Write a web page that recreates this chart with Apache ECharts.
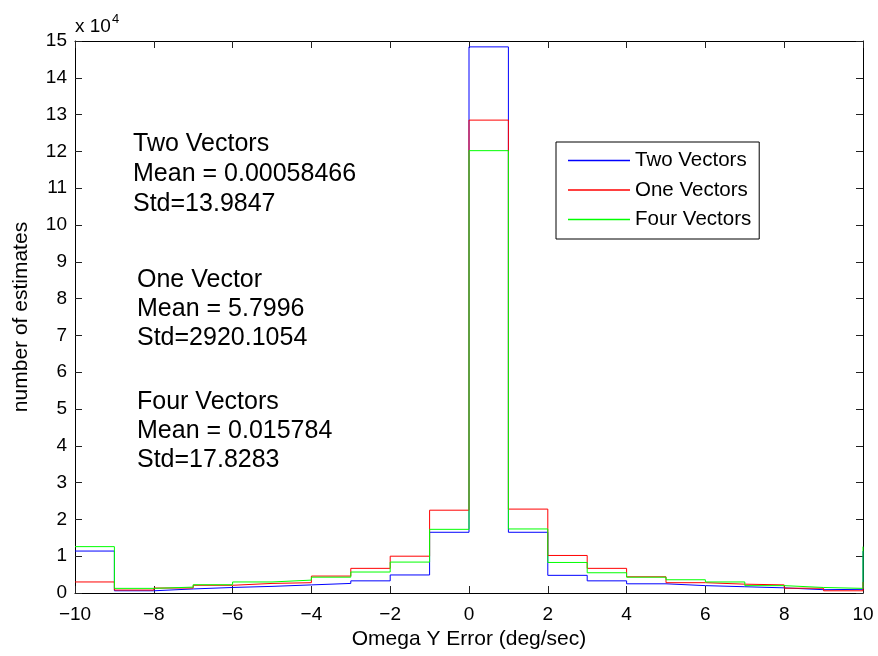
<!DOCTYPE html>
<html>
<head>
<meta charset="utf-8">
<script src="https://cdn.jsdelivr.net/npm/echarts@6/dist/echarts.min.js"></script>
<style>
  html, body { margin: 0; padding: 0; background: #fff; }
  #chart { width: 878px; height: 656px; }
</style>
</head>
<body>
<div id="chart"></div>
<script>
// bin left edges (deg/sec); the last point closes the stairs at x = 10
var edges = [-10, -9, -8, -7, -6, -5, -4, -3, -2, -1, 0, 1, 2, 3, 4, 5, 6, 7, 8, 9, 10]
// counts per bin
var twoVectors = [11400, 600, 1100, 1500, 1800, 2200, 2600, 3300, 4900, 16500, 148400, 16500, 4800, 3300, 2500, 2000, 1700, 1400, 900, 1000, 11400]
var oneVectors = [3000, 800, 1350, 2100, 2600, 2800, 4600, 6700, 10000, 22500, 128500, 22800, 10200, 6700, 4400, 2800, 2400, 2200, 1300, 600, 3000]
var fourVectors = [12600, 1260, 1600, 2250, 3000, 3500, 4300, 5700, 8400, 17300, 120200, 17400, 8300, 5500, 4300, 3600, 3000, 2000, 1500, 1260, 12600]
var seriesNames = ['Two Vectors', 'One Vectors', 'Four Vectors']
var seriesColors = ['#0000ff', '#ff0000', '#00ff00']
var xTicks = { min: -10, max: 10, step: 2 }
var yTicks = { min: 0, max: 150000, step: 10000 }
var notes = [
    'Two Vectors\nMean = 0.00058466\nStd=13.9847',
    'One Vector\nMean = 5.7996\nStd=2920.1054',
    'Four Vectors\nMean = 0.015784\nStd=17.8283'
]

var font = "'Liberation Sans', Arial, Helvetica, sans-serif"

function pairs(vals) {
    return edges.map(function (x, i) { return [x, vals[i]] })
}

function stairs(name, vals, color) {
    return {
        name: name,
        type: 'line',
        step: 'end',
        symbol: 'none',
        clip: true,
        lineStyle: { color: color, width: 1 },
        itemStyle: { color: color },
        data: pairs(vals)
    }
}

var tick = { show: true, inside: true, length: 7, lineStyle: { color: '#222', width: 1 } }
var line = { show: true, onZero: false, lineStyle: { color: '#000', width: 1 } }

var option = {
    animation: false,
    backgroundColor: '#fff',
    grid: { left: 75, top: 41, right: 15, bottom: 63, containLabel: false },
    legend: {
        orient: 'vertical',
        left: 556,
        top: 142,
        padding: [8, 8, 9, 12],
        icon: 'path://M0,0 L62,0 L62,1.6 L0,1.6 Z',
        itemWidth: 62,
        itemHeight: 20,
        itemGap: 8.5,
        borderColor: '#000',
        borderWidth: 1,
        backgroundColor: '#fff',
        textStyle: { color: '#000', fontSize: 20.5, fontFamily: font, lineHeight: 20 },
        data: seriesNames.map(function (n, i) {
            return { name: n, itemStyle: { color: seriesColors[i], opacity: 1 } }
        })
    },
    xAxis: [{
        type: 'value',
        min: xTicks.min, max: xTicks.max, interval: xTicks.step,
        name: 'Omega Y Error (deg/sec)',
        nameLocation: 'middle',
        nameGap: 33,
        nameTextStyle: { color: '#000', fontSize: 21, fontFamily: font },
        axisLine: line,
        axisTick: tick,
        splitLine: { show: false },
        axisLabel: {
            color: '#000', fontSize: 19, fontFamily: font, margin: 12,
            formatter: function (v) { return v < 0 ? '\u2212' + (-v) : String(v) }
        }
    }, {
        type: 'value', position: 'top',
        min: xTicks.min, max: xTicks.max, interval: xTicks.step,
        axisLine: line, axisTick: tick, splitLine: { show: false }, axisLabel: { show: false }
    }],
    yAxis: [{
        type: 'value',
        min: yTicks.min, max: yTicks.max, interval: yTicks.step,
        name: 'number of estimates',
        nameLocation: 'middle',
        nameGap: 43,
        nameTextStyle: { color: '#000', fontSize: 21, fontFamily: font },
        axisLine: line,
        axisTick: tick,
        splitLine: { show: false },
        axisLabel: {
            color: '#000', fontSize: 19, fontFamily: font, margin: 8,
            formatter: function (v) { return String(v / 10000) }
        }
    }, {
        type: 'value', position: 'right',
        min: yTicks.min, max: yTicks.max, interval: yTicks.step,
        axisLine: line, axisTick: tick, splitLine: { show: false }, axisLabel: { show: false }
    }],
    graphic: [
        { type: 'text', x: 75, y: 27, style: { text: 'x 10', fill: '#000', fontSize: 19, fontFamily: font, verticalAlign: 'middle' } },
        { type: 'text', x: 112, y: 19, style: { text: '4', fill: '#000', fontSize: 13, fontFamily: font, verticalAlign: 'middle' } },
        { type: 'text', x: 133, y: 174, style: { text: notes[0], fill: '#000', fontSize: 25, lineHeight: 30, fontFamily: font, verticalAlign: 'middle' } },
        { type: 'text', x: 137, y: 309, style: { text: notes[1], fill: '#000', fontSize: 25, lineHeight: 29, fontFamily: font, verticalAlign: 'middle' } },
        { type: 'text', x: 137, y: 431, style: { text: notes[2], fill: '#000', fontSize: 25, lineHeight: 29, fontFamily: font, verticalAlign: 'middle' } }
    ],
    series: [
        stairs(seriesNames[0], twoVectors, seriesColors[0]),
        stairs(seriesNames[1], oneVectors, seriesColors[1]),
        stairs(seriesNames[2], fourVectors, seriesColors[2])
    ]
}

var chart = echarts.init(document.getElementById('chart'))
chart.setOption(option)
window.onresize = function () { chart.resize() }
</script>
</body>
</html>
